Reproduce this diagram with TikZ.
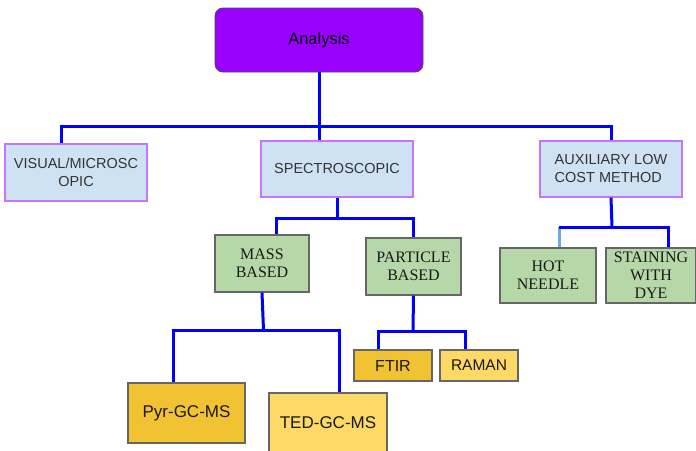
\documentclass[tikz,border=0pt]{standalone}
\usepackage{fontspec}
\setmainfont{Liberation Sans}
\newfontfamily\serifbox{Liberation Serif}
\definecolor{anafill}{RGB}{153,0,255}
\definecolor{bluefill}{RGB}{207,226,243}
\definecolor{blueedge}{RGB}{196,118,250}
\definecolor{greenfill}{RGB}{182,215,168}
\definecolor{darkyellow}{RGB}{241,194,50}
\definecolor{lightyellow}{RGB}{255,217,102}
\definecolor{boxedge}{RGB}{102,102,102}
\definecolor{txtgrey}{RGB}{51,51,51}
\definecolor{connblue}{RGB}{0,0,255}
\definecolor{connlight}{RGB}{111,168,220}
\tikzset{
  anabox/.style={draw=black!70, line width=0.8pt, fill=anafill, rounded corners=8pt, font=\fontsize{16.5}{19}\selectfont},
  bluebox/.style={draw=blueedge, line width=1.3pt, fill=bluefill, text=txtgrey, align=center, font=\fontsize{14.5}{18}\selectfont, inner sep=0pt},
  greenbox/.style={draw=boxedge, line width=1.1pt, fill=greenfill, text=black!90, align=center, font=\serifbox\fontsize{16}{18}\selectfont, inner sep=0pt},
  ybox/.style={draw=boxedge, line width=1.1pt, text=black!90, font=\fontsize{17}{20}\selectfont, inner sep=0pt},
  conn/.style={draw=connblue, line width=3pt},
  connl/.style={draw=connlight, line width=3pt}
}
\begin{document}
\begin{tikzpicture}[x=1pt,y=-1pt]
\useasboundingbox (0,0) rectangle (696,450);
% nodes
\node[anabox, minimum width=208pt, minimum height=64pt] (ana) at (319,40) {Analysis};
\node[bluebox, minimum width=142pt, minimum height=57pt] (vis) at (76,172.5) {VISUAL/MICROSC\\OPIC};
\node[bluebox, minimum width=152pt, minimum height=56pt] (spec) at (337,169) {SPECTROSCOPIC};
\node[bluebox, align=left, minimum width=142pt, minimum height=56pt] (aux) at (611,169) {AUXILIARY LOW\\COST METHOD};
\node[greenbox, minimum width=94pt, minimum height=57pt] (mass) at (262,263.5) {MASS\\BASED};
\node[greenbox, minimum width=95pt, minimum height=57pt] (part) at (413.5,266.5) {PARTICLE\\BASED};
\node[greenbox, minimum width=96pt, minimum height=55pt] (hot) at (548,275.5) {HOT\\NEEDLE};
\node[greenbox, minimum width=90pt, minimum height=55pt] (stain) at (651,275.5) {STAINING\\WITH\\DYE};
\node[ybox, fill=darkyellow, minimum width=117pt, minimum height=60pt] (pyr) at (186.5,413) {Pyr-GC-MS\hspace{12pt}};
\node[ybox, fill=lightyellow, minimum width=118pt, minimum height=60pt] (ted) at (328,423) {TED-GC-MS\hspace{6pt}};
\node[ybox, fill=darkyellow, minimum width=78pt, minimum height=31pt, font=\fontsize{16}{18}\selectfont] (ftir) at (393,365.5) {FTIR};
\node[ybox, fill=lightyellow, minimum width=78pt, minimum height=31pt, font=\fontsize{15.5}{18}\selectfont] (raman) at (479,365.5) {RAMAN};
% bus coordinates
\coordinate (b1) at (319,126);
\coordinate (b2) at (337,218);
\coordinate (b3) at (263.5,330);
\coordinate (b4) at (413,331);
\coordinate (b5) at (612,227);
% connectors
\draw[conn] (ana.south) -- (ana.south |- spec.north);
\draw[conn] ([xshift=-15pt]vis.north) |- (b1) -| (aux.north);
\draw[conn] (spec.south) -- (b2);
\draw[conn] ([xshift=14pt]mass.north) |- (b2) -| (part.north);
\draw[conn] (mass.south) -- (b3);
\draw[conn] ([xshift=-13.5pt]pyr.north) |- (b3) -| ([xshift=11pt]ted.north);
\draw[conn] (part.south) -- (b4);
\draw[conn] ([xshift=-15pt]ftir.north) |- (b4) -| ([xshift=-14pt]raman.north);
\draw[conn] (aux.south) -- (b5);
\draw[connl] ([xshift=11pt]hot.north) -- ([xshift=11pt]hot.north |- b5);
\draw[conn] ([xshift=11pt]hot.north |- b5) -- (b5) -| ([xshift=17pt]stain.north);
\end{tikzpicture}
\end{document}
